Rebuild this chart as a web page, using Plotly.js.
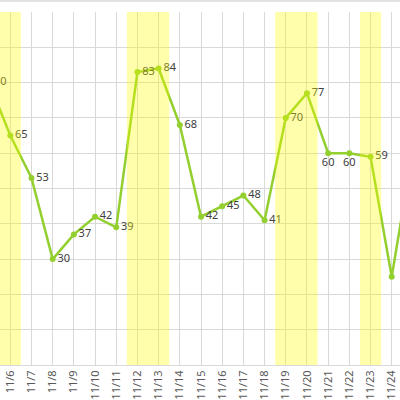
<!DOCTYPE html>
<html>
<head>
<meta charset="utf-8">
<script src="https://cdn.plot.ly/plotly-3.0.1.min.js"></script>
<style>html,body{margin:0;padding:0;background:#fff;}#chart{width:400px;height:400px;}</style>
</head>
<body>
<div id="chart"></div>
<script>
var dates = ['11/5','11/6','11/7','11/8','11/9','11/10','11/11','11/12','11/13','11/14','11/15','11/16','11/17','11/18','11/19','11/20','11/21','11/22','11/23','11/24','11/25'];
var values = [80,65,53,30,37,42,39,83,84,68,42,45,48,41,70,77,60,60,59,25,61];
var holidays = ['11/5','11/6','11/12','11/13','11/19','11/20','11/23'];
var belowLabels = ['11/21','11/22'];

var textPos = dates.map(function(d){ return belowLabels.indexOf(d) >= 0 ? 'bottom center' : 'middle right'; });
var labels = values.map(function(v, i){ return (i === values.length - 1 || dates[i] === '11/24') ? '' : String(v); });

var shapes = holidays.map(function(d){
  var i = dates.indexOf(d);
  return {type:'rect', xref:'x', yref:'paper', x0:i-0.5, x1:i+0.5, y0:0, y1:1,
          fillcolor:'rgba(255,255,0,0.33)', line:{width:0}, layer:'above'};
});
shapes.push({type:'line', xref:'paper', yref:'paper', x0:0, x1:1, y0:1.031, y1:1.031,
             line:{color:'#d9d9d9', width:1.5}});

var trace = {
  x: dates, y: values, type:'scatter', mode:'lines+markers+text',
  text: labels, textposition: textPos,
  textfont:{family:'Noto Sans, DejaVu Sans, sans-serif', size:11, color:'#404040'},
  line:{color:'#93cf2f', width:2.5},
  marker:{color:'#93cf2f', size:6},
  hoverinfo:'none'
};

var layout = {
  width:400, height:400,
  margin:{l:0, r:0, t:12, b:35},
  paper_bgcolor:'#ffffff', plot_bgcolor:'#ffffff',
  showlegend:false,
  xaxis:{type:'category', range:[0.514, 19.391], showgrid:true, gridcolor:'#d9d9d9', gridwidth:1,
         showline:true, linecolor:'#d9d9d9', linewidth:1, ticks:'', tickangle:-90,
         tickfont:{family:'Noto Sans, DejaVu Sans, sans-serif', size:11, color:'#595959'},
         zeroline:false, fixedrange:true},
  yaxis:{range:[0,100], dtick:10, showgrid:true, gridcolor:'#d9d9d9', gridwidth:1,
         showticklabels:false, zeroline:false, ticks:'', fixedrange:true},
  shapes: shapes
};

Plotly.newPlot('chart', [trace], layout, {displayModeBar:false, staticPlot:true});
</script>
</body>
</html>
